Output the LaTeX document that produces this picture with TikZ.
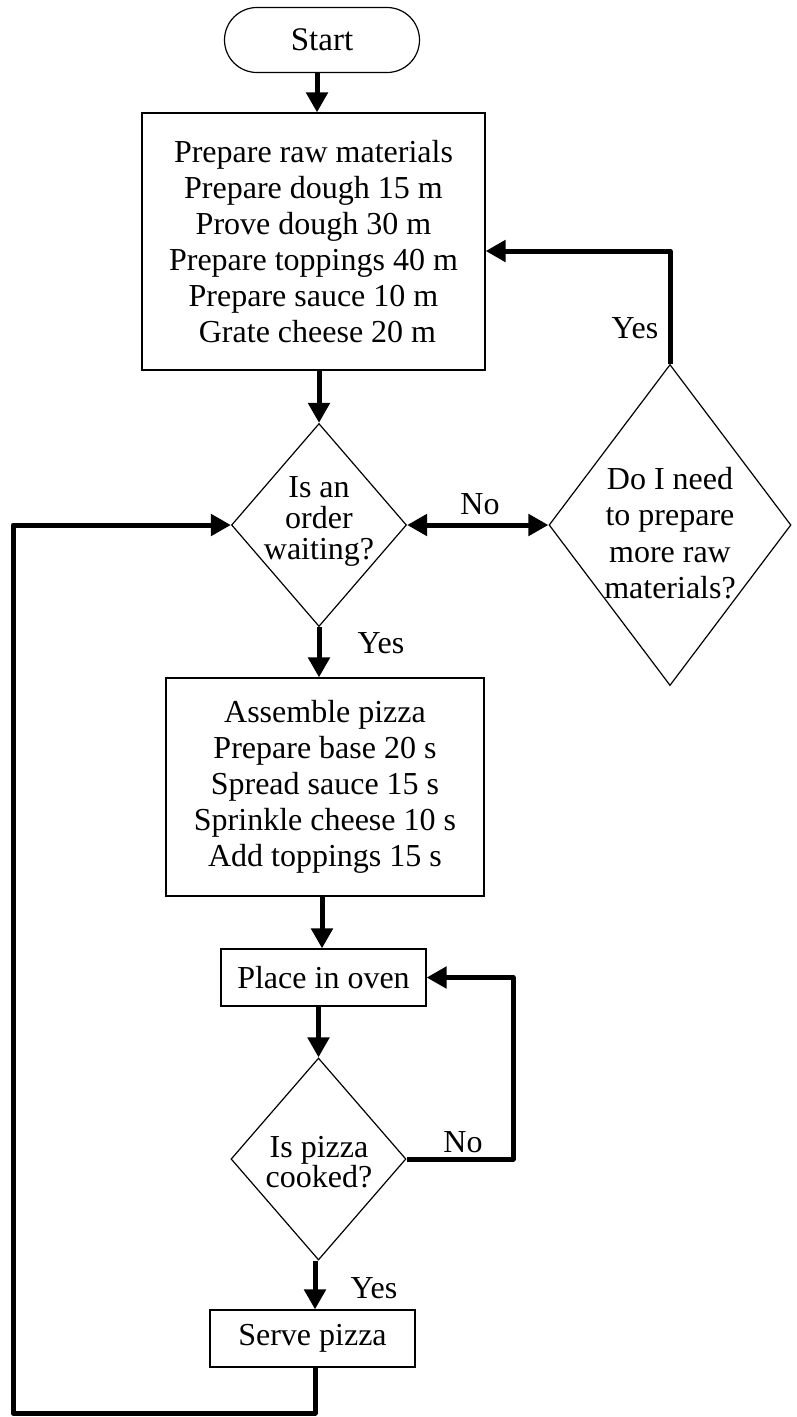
\documentclass[tikz,border=0pt]{standalone}
\usepackage{fontspec}
\setmainfont{Liberation Serif}
\usetikzlibrary{shapes.geometric,arrows.meta}
\begin{document}
\begin{tikzpicture}[x=1pt,y=-1pt,
  conn/.style={line width=5pt, line join=round},
  arr/.style={conn,-{Triangle[length=20pt,width=21pt]}},
  darr/.style={conn,{Triangle[length=20pt,width=21pt]}-{Triangle[length=20pt,width=21pt]}},
  boxnode/.style={draw, line width=1.2pt, rectangle, inner sep=0pt, align=center, font=\fontsize{32}{36}\selectfont},
  dianode/.style={draw, line width=1.2pt, diamond, inner sep=0pt},
  txt/.style={inner sep=0pt, align=center, font=\fontsize{32}{36}\selectfont},
]
\useasboundingbox (0,0) rectangle (796,1417);
% nodes
\node[boxnode, rounded corners=32.5pt, minimum width=195pt, minimum height=65pt, font=\fontsize{33}{36}\selectfont] (start) at (322,40) {Start};
\node[boxnode, minimum width=343pt, minimum height=257pt] (box1) at (313.5,241.5)
  {Prepare raw materials\\Prepare dough 15 m\\Prove dough 30 m\\Prepare toppings 40 m\\Prepare sauce 10 m\\\ Grate cheese 20 m};
\node[dianode, minimum width=175pt, minimum height=203pt] (d1) at (319,525) {};
\node[txt, font=\fontsize{32}{31}\selectfont] (t1) at (319,521) {Is an\\order\\waiting?};
\node[dianode, minimum width=242pt, minimum height=321pt] (d2) at (670,525) {};
\node[txt, font=\fontsize{32}{36.5}\selectfont] (t2) at (670,533) {Do I need\\to prepare\\more raw\\materials?};
\node[boxnode, minimum width=318pt, minimum height=218pt] (box2) at (325,787)
  {Assemble pizza\\Prepare base 20 s\\Spread sauce 15 s\\Sprinkle cheese 10 s\\Add toppings 15 s};
\node[boxnode, minimum width=205pt, minimum height=57pt] (oven) at (323.5,977.5) {Place in oven};
\node[dianode, minimum width=175pt, minimum height=202pt] (d3) at (318.5,1159) {};
\node[txt, font=\fontsize{32}{30}\selectfont] (t3) at (319,1162) {Is pizza\\cooked?};
\node[boxnode, minimum width=205pt, minimum height=57pt] (serve) at (312.5,1338.5) {Serve pizza};
% labels
\node[txt] (yes1) at (635,328) {Yes};
\node[txt] (no1) at (480,504) {No};
\node[txt] (yes2) at (381,643) {Yes};
\node[txt] (no2) at (463,1142) {No};
\node[txt] (yes3) at (374,1288) {Yes};
% helper coordinates
\coordinate (cA) at (317,0);
\coordinate (cB) at (322,0);
\coordinate (cS) at (315,0);
\coordinate (cY) at (0,251);
\coordinate (cN) at (513,0);
\coordinate (cBL) at (13,1413);
% connectors
\draw[arr] (start.south -| cA) -- (box1.north -| cA);
\draw[arr] (box1.south -| d1) -- (d1.north);
\draw[arr] (d1.south) -- (box2.north -| d1);
\draw[arr] (box2.south -| cB) -- (oven.north -| cB);
\draw[arr] (oven.south -| d3) -- (d3.north);
\draw[arr] (d3.south -| cS) -- (serve.north -| cS);
\draw[arr] (serve.south -| cS) |- (cBL) |- (d1.west);
\draw[darr] (d1.east) -- (d2.west);
\draw[arr] (d2.north) |- (box1.east |- cY);
\draw[arr] (d3.east) -- (d3.east -| cN) |- (oven.east);
\end{tikzpicture}
\end{document}
